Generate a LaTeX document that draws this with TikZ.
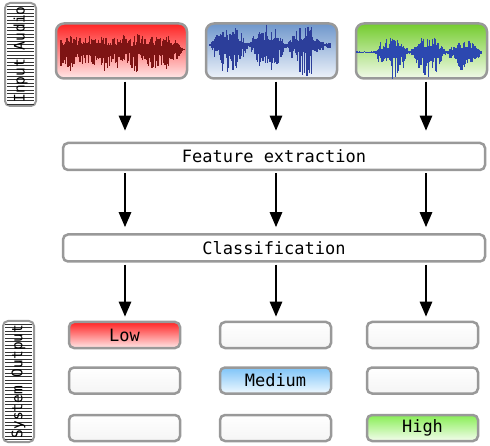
\documentclass[tikz,border=0pt]{standalone}
\usepackage{fontspec}
\setmonofont{DejaVu Sans Mono}
\usetikzlibrary{arrows.meta}

\definecolor{frame}{HTML}{999999}
\definecolor{redtop}{HTML}{FF2424}
\definecolor{redbot}{HTML}{FFE8E8}
\definecolor{bluetop}{HTML}{6F97CC}
\definecolor{bluebot}{HTML}{EEF3FA}
\definecolor{greentop}{HTML}{74CC2E}
\definecolor{greenbot}{HTML}{F2FAEA}
\definecolor{medtop}{HTML}{7EC4F8}
\definecolor{medbot}{HTML}{F0F9FF}
\definecolor{hightop}{HTML}{88EE55}
\definecolor{highbot}{HTML}{F4FDEE}
\definecolor{redwave}{HTML}{7E1414}
\definecolor{bluewave}{HTML}{2C3E9A}
\definecolor{greenwave}{HTML}{2C48B0}

% #1 x from, #2 x to, #3 centre line, #4 colour, #5 envelope of \wt
\newcommand{\wave}[5]{%
  \foreach \k in {0,...,104}{%
    \pgfmathsetmacro{\wt}{\k/104}%
    \pgfmathsetmacro{\xx}{#1+\wt*(#2-#1)}%
    \pgfmathsetmacro{\env}{#5}%
    \pgfmathsetmacro{\up}{\env*(0.25+0.75*rnd)}%
    \pgfmathsetmacro{\dn}{\env*(0.35+1.2*rnd)}%
    \draw[#4, line width=1.2pt] (\xx,#3-\up) -- (\xx,#3+\dn);
  }}

\begin{document}
\begin{tikzpicture}[x=1pt, y=-1pt,
    every node/.style={font=\ttfamily\fontsize{17}{20}\selectfont},
    box/.style={draw=frame, line width=2.5pt, rounded corners=5pt, inner sep=0pt},
    audio/.style={box, rounded corners=8pt, minimum width=131pt, minimum height=55pt},
    stage/.style={box, fill=white, minimum width=422pt, minimum height=27pt},
    outbox/.style={box, minimum width=111pt, minimum height=26pt, top color=white, bottom color=gray!8},
    side/.style={box, line width=2pt, fill=white, minimum width=31pt},
    sidetext/.style={rotate=90, font=\ttfamily\fontsize{14.5}{18}\selectfont},
    arr/.style={line width=2.5pt, -{Triangle[length=15pt,width=12pt]}},
]
\useasboundingbox (0,0) rectangle (490,446);
\pgfmathsetseed{11}

% side labels
\node[side, minimum height=103pt] (ia) at (20.5,54.5) {};
\foreach \yy in {6,9.5,...,104} \draw[line width=0.4pt, black!80] (7,\yy) -- (34,\yy);
\node[sidetext] (iat) at (ia) {Input Audio};

\node[side, minimum height=121pt] (so) at (18.5,381.5) {};
\foreach \yy in {324,327.5,...,440} \draw[line width=0.4pt, black!80] (5,\yy) -- (32,\yy);
\node[sidetext] (sot) at (so) {System Output};

% input audio
\node[audio, top color=redtop, bottom color=redbot] (red) at (121.5,51) {};
\node[audio, top color=bluetop, bottom color=bluebot] (blue) at (271.5,51) {};
\node[audio, top color=greentop, bottom color=greenbot] (green) at (421.5,51) {};

\wave{61}{184}{49}{redwave}{1+14*min(1,(1-\wt)*9)*(0.75+0.25*abs(sin(\wt*1300)))}
\wave{210}{330}{45}{bluewave}{1.5+19*abs(sin(\wt*560))*(1-0.6*(\wt>0.85))}
\wave{357}{481}{52}{greenwave}{0.6+(\wt>0.14)*17*abs(sin((\wt-0.14)*620))*(1-0.3*(\wt>0.7))}

% stages
\node[stage] (fe) at (274,156.5) {Feature extraction};
\node[stage] (cl) at (274,248) {Classification};

% system output
\node[outbox, top color=redtop, bottom color=redbot] (o11) at (124.5,335) {Low};
\node[outbox] (o12) at (275.5,335) {};
\node[outbox] (o13) at (422.5,335) {};
\node[outbox] (o21) at (124.5,380.5) {};
\node[outbox, top color=medtop, bottom color=medbot] (o22) at (275.5,380.5) {Medium};
\node[outbox] (o23) at (422.5,380.5) {};
\node[outbox] (o31) at (124.5,428) {};
\node[outbox] (o32) at (275.5,428) {};
\node[outbox, top color=hightop, bottom color=highbot] (o33) at (422.5,428) {High};

% arrows
\coordinate (c1) at (125,0);
\coordinate (c2) at (276,0);
\coordinate (c3) at (426,0);
\foreach \c/\a in {c1/red, c2/blue, c3/green}
  \draw[arr, shorten <=2pt, shorten >=11pt] (\c |- \a.south) -- (\c |- fe.north);
\foreach \c in {c1, c2, c3}{
  \draw[arr, shorten <=2pt, shorten >=6pt] (\c |- fe.south) -- (\c |- cl.north);
  \draw[arr, shorten <=2pt, shorten >=4pt] (\c |- cl.south) -- (\c |- o11.north);
}
\end{tikzpicture}
\end{document}
